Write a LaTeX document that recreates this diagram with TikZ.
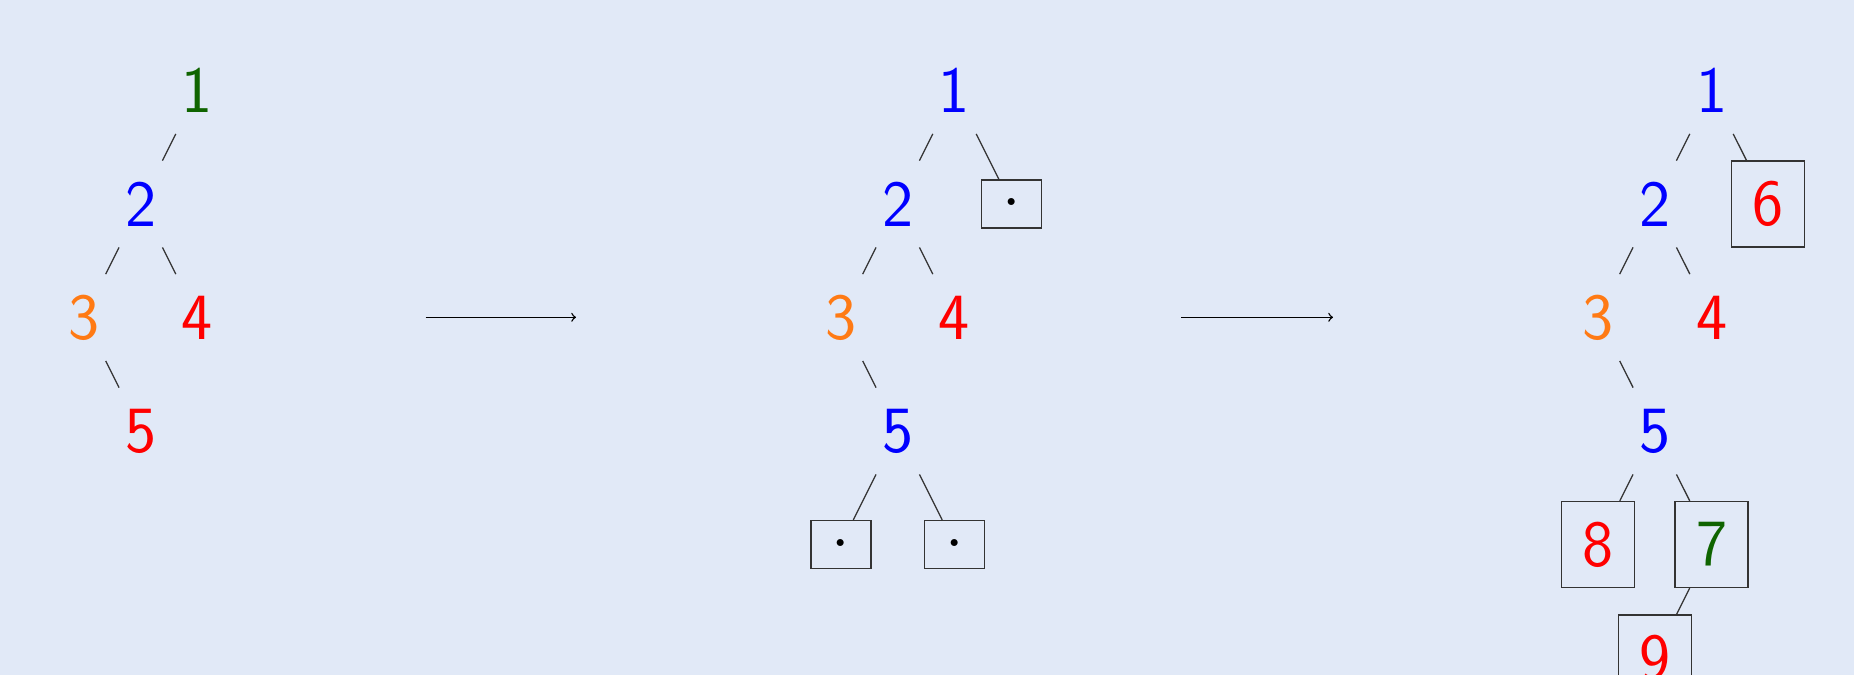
\RequirePackage{fix-cm}
\documentclass[tikz,border=0pt]{standalone}
\usetikzlibrary{arrows}
\definecolor{bgcol}{RGB}{225,233,247}
\definecolor{dgreen}{RGB}{15,100,0}
\definecolor{orng}{RGB}{255,122,20}
\begin{document}
\begin{tikzpicture}[x=0.5pt,y=-0.5pt,
  nd/.style={font=\sffamily\fontsize{33}{33}\selectfont, inner sep=0pt, minimum width=36.5pt, minimum height=43pt},
  bx/.style={nd, draw=black!80, line width=0.65pt},
  dotbx/.style={font=\fontsize{33}{33}\selectfont, inner sep=0pt, minimum width=30pt, minimum height=24pt, draw=black!80, line width=0.65pt},
  link/.style={draw=black!80, line width=0.65pt},
  step arrow/.style={draw=black, line width=0.7pt, ->}]
\fill[bgcol] (0,0) rectangle (1854,675);
\clip (0,0) rectangle (1854,675);
% tree 1
\node[nd,text=dgreen] (a1) at (197.5,90.5) {1};
\node[nd,text=blue] (a2) at (140.75,204) {2};
\node[nd,text=orng] (a3) at (84,317.5) {3};
\node[nd,text=red] (a4) at (197.5,317.5) {4};
\node[nd,text=red] (a5) at (140.75,431) {5};
\draw[link] (a1) -- (a2);
\draw[link] (a2) -- (a3);
\draw[link] (a2) -- (a4);
\draw[link] (a3) -- (a5);
% arrow 1
\coordinate (p1) at (425.5,317.3);
\coordinate (p2) at (576,317.3);
\draw[step arrow] (p1) -- (p2);
% tree 2
\node[nd,text=blue] (b1) at (954.5,90.5) {1};
\node[nd,text=blue] (b2) at (897.75,204) {2};
\node[dotbx] (bd1) at (1011.25,204) {$\cdot$};
\node[nd,text=orng] (b3) at (841,317.5) {3};
\node[nd,text=red] (b4) at (954.5,317.5) {4};
\node[nd,text=blue] (b5) at (897.75,431) {5};
\node[dotbx] (bd2) at (841,544.5) {$\cdot$};
\node[dotbx] (bd3) at (954.5,544.5) {$\cdot$};
\draw[link] (b1) -- (b2);
\draw[link] (b1) -- (bd1);
\draw[link] (b2) -- (b3);
\draw[link] (b2) -- (b4);
\draw[link] (b3) -- (b5);
\draw[link] (b5) -- (bd2);
\draw[link] (b5) -- (bd3);
% arrow 2
\coordinate (q1) at (1181,317.3);
\coordinate (q2) at (1333,317.3);
\draw[step arrow] (q1) -- (q2);
% tree 3
\node[nd,text=blue] (c1) at (1711.5,90.5) {1};
\node[nd,text=blue] (c2) at (1654.75,204) {2};
\node[bx,text=red] (c6) at (1768.25,204) {6};
\node[nd,text=orng] (c3) at (1598,317.5) {3};
\node[nd,text=red] (c4) at (1711.5,317.5) {4};
\node[nd,text=blue] (c5) at (1654.75,431) {5};
\node[bx,text=red] (c8) at (1598,544.5) {8};
\node[bx,text=dgreen] (c7) at (1711.5,544.5) {7};
\node[bx,text=red] (c9) at (1654.75,658) {9};
\draw[link] (c1) -- (c2);
\draw[link] (c1) -- (c6);
\draw[link] (c2) -- (c3);
\draw[link] (c2) -- (c4);
\draw[link] (c3) -- (c5);
\draw[link] (c5) -- (c8);
\draw[link] (c5) -- (c7);
\draw[link] (c7) -- (c9);
\end{tikzpicture}
\end{document}
